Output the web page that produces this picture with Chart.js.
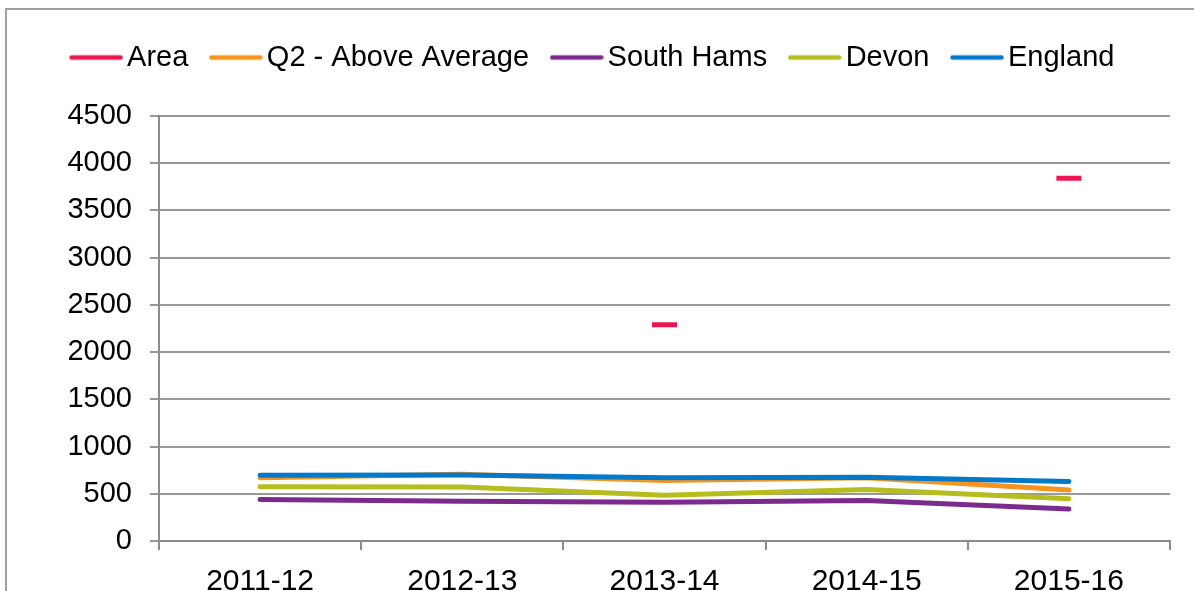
<!DOCTYPE html>
<html>
<head>
<meta charset="utf-8">
<script src="https://cdn.jsdelivr.net/npm/chart.js@4.4.1/dist/chart.umd.min.js"></script>
<style>
  html, body { margin: 0; padding: 0; background: #fff; overflow: hidden; }
  #frame { position: absolute; left: 5px; top: 8px; width: 1300px; height: 700px; border: 2px solid #a0a0a0; }
  #wrap { position: absolute; left: 0; top: 0; width: 1194px; height: 591px; }
</style>
</head>
<body>
<div id="frame"></div>
<div id="wrap"><canvas id="chart" width="1194" height="591"></canvas></div>
<script>
// Years on the x axis
const years = ['2011-12', '2012-13', '2013-14', '2014-15', '2015-16'];

// Series values
const area = [null, null, 2290, null, 3840];
const q2AboveAverage = [670, 708, 640, 670, 540];
const southHams = [440, 420, 410, 428, 338];
const devon = [575, 572, 485, 545, 448];
const england = [695, 700, 670, 675, 630];

const yTicks = [0, 500, 1000, 1500, 2000, 2500, 3000, 3500, 4000, 4500];

const colors = ['#ED1651', '#F7941D', '#7D2A8E', '#B5BD1F', '#0579C9'];

const FONT = "'Liberation Sans', Arial, sans-serif";

function lineSeries(label, data, color, order) {
  return {
    label: label,
    data: data,
    borderColor: color,
    backgroundColor: color,
    borderWidth: 5,
    borderCapStyle: 'round',
    borderJoinStyle: 'round',
    pointRadius: 0,
    pointHoverRadius: 0,
    tension: 0,
    order: order
  };
}

// little line swatch for the legend, so the text can sit close to it
function legendSwatch(color) {
  const c = document.createElement('canvas');
  c.width = 54;
  c.height = 8;
  const g = c.getContext('2d');
  g.strokeStyle = color;
  g.lineWidth = 4.5;
  g.lineCap = 'round';
  g.beginPath();
  g.moveTo(2.5, 4);
  g.lineTo(51.5, 4);
  g.stroke();
  return c;
}
const swatches = colors.map(legendSwatch);

// the gap between legend and plot is wider than chart.js gives by default
const legendGap = {
  id: 'legendGap',
  beforeLayout(chart) {
    const legend = chart.legend;
    if (legend && !legend._gapPatched) {
      const fit = legend.fit;
      legend.fit = function () {
        fit.call(this);
        this.height += 34;
      };
      legend._gapPatched = true;
    }
  }
};

const ctx = document.getElementById('chart').getContext('2d');
new Chart(ctx, {
  type: 'line',
  data: {
    labels: years,
    datasets: [
      {
        label: 'Area',
        data: area,
        borderColor: colors[0],
        backgroundColor: colors[0],
        borderWidth: 5,
        showLine: false,
        pointStyle: 'line',
        pointRadius: 12.5,
        pointBorderWidth: 5,
        pointHoverRadius: 12.5,
        order: 0
      },
      lineSeries('Q2 - Above Average', q2AboveAverage, colors[1], 4),
      lineSeries('South Hams', southHams, colors[2], 3),
      lineSeries('Devon', devon, colors[3], 2),
      lineSeries('England', england, colors[4], 1)
    ]
  },
  options: {
    responsive: false,
    animation: false,
    events: [],
    layout: { padding: { left: 24, right: 24, top: 12, bottom: 0 } },
    plugins: {
      tooltip: { enabled: false },
      legend: {
        position: 'top',
        labels: {
          usePointStyle: true,
          pointStyleWidth: 33,
          padding: 31,
          color: '#000',
          font: { family: FONT, size: 29 },
          sort: (a, b) => a.datasetIndex - b.datasetIndex,
          generateLabels(chart) {
            const items = Chart.defaults.plugins.legend.labels.generateLabels(chart);
            items.forEach(item => { item.pointStyle = swatches[item.datasetIndex]; });
            return items;
          }
        }
      }
    },
    scales: {
      x: {
        offset: true,
        grid: {
          offset: true,
          drawOnChartArea: false,
          drawTicks: true,
          tickLength: 9,
          color: '#8c8c8c',
          lineWidth: 2
        },
        border: { color: '#8c8c8c', width: 2 },
        ticks: {
          color: '#000',
          font: { family: FONT, size: 30 },
          padding: 14,
          maxRotation: 0
        },
        afterFit(scale) { scale.height = 50; }
      },
      y: {
        min: 0,
        max: 4500,
        afterBuildTicks(scale) { scale.ticks = yTicks.map(v => ({ value: v })); },
        grid: {
          color: '#999',
          lineWidth: 2,
          tickLength: 9
        },
        border: { color: '#8c8c8c', width: 2 },
        ticks: {
          color: '#000',
          font: { family: FONT, size: 29 },
          padding: 18,
          callback: v => String(v)
        },
        afterFit(scale) { scale.width = 135; }
      }
    }
  },
  plugins: [legendGap]
});
</script>
</body>
</html>
